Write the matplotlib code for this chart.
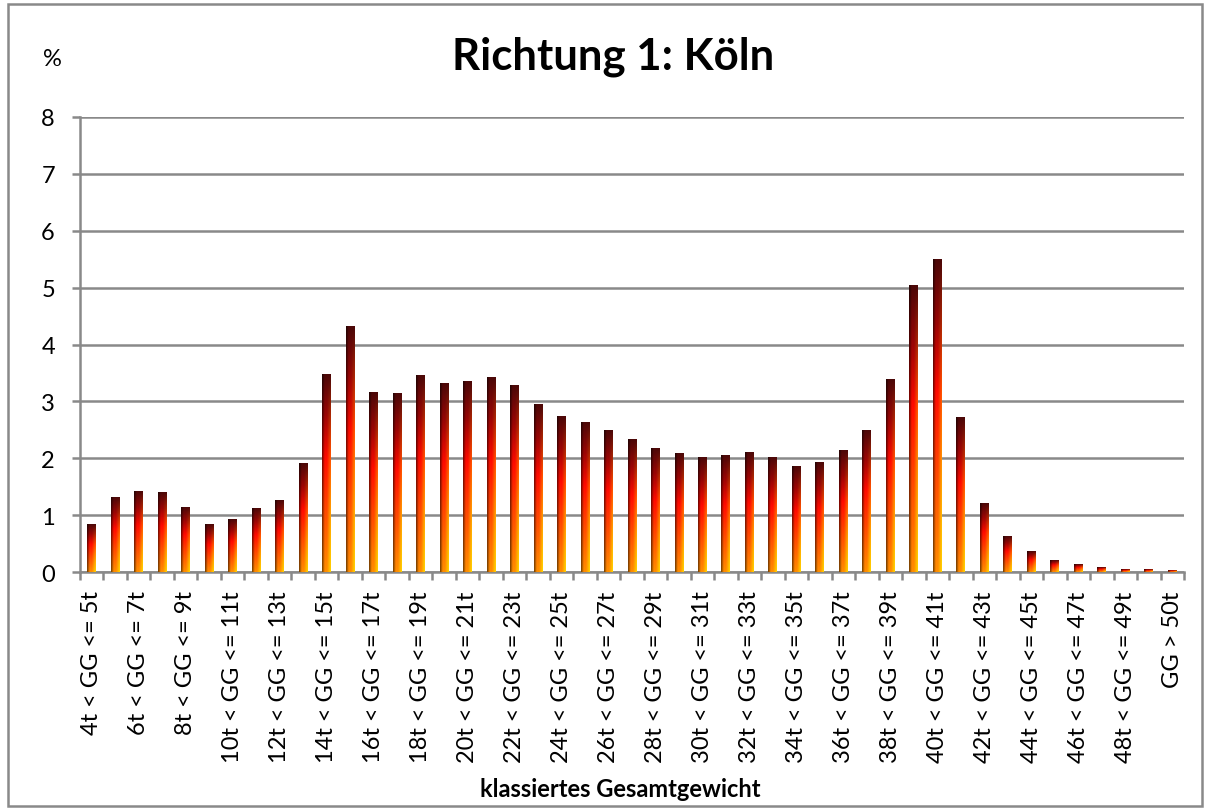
import matplotlib
matplotlib.use("Agg")
import matplotlib.pyplot as plt
import numpy as np
from matplotlib.colors import LinearSegmentedColormap, to_rgb
from matplotlib.patches import Rectangle

# Klassen des Gesamtgewichts (GG) und Anteile in %
unten = list(range(4, 50))
klassen = [f"{a}t < GG <= {a + 1}t" for a in unten] + ["GG > 50t"]
anteil = [0.83, 1.30, 1.41, 1.39, 1.13, 0.83, 0.92, 1.11, 1.25, 1.90,
          3.46, 4.31, 3.15, 3.13, 3.45, 3.31, 3.34, 3.41, 3.27, 2.94,
          2.73, 2.62, 2.48, 2.33, 2.17, 2.08, 2.01, 2.05, 2.10, 2.01,
          1.85, 1.92, 2.13, 2.48, 3.38, 5.03, 5.48, 2.71, 1.20, 0.62,
          0.36, 0.20, 0.13, 0.075, 0.04, 0.04, 0.02]
yticks = list(range(0, 9))

plt.rcParams.update({"font.family": ["Lato", "DejaVu Sans"], "font.size": 17})
GRAU = "#898989"

fig = plt.figure(figsize=(12.1, 8.12), dpi=100)
ax = fig.add_axes([80 / 1210, 1 - 573.3 / 812, 1104 / 1210, 455.6 / 812])

# Farbverlauf wie Excel "Feuer": senkrecht dunkelrot -> rot -> orange,
# links dunkler Rand, rechts unten gelblich
senkrecht = LinearSegmentedColormap.from_list("feuer", [
    (0.00, "#4d0808"), (0.20, "#9a0505"), (0.42, "#ff0a00"),
    (0.70, "#ff4a00"), (1.00, "#ff8c00")])
t = np.linspace(0, 1, 80)[:, None]
u = np.linspace(0, 1, 20)[None, :]
bild = senkrecht(np.broadcast_to(t, (80, 20)))[..., :3]
dunkel = np.clip(0.45 + u / 0.3 * 0.55, 0.45, 1.0)[..., None]
bild = bild * dunkel
gelb = (t * np.clip((u - 0.55) / 0.45, 0, 1) * 0.85)[..., None]
bild = bild * (1 - gelb) + np.array(to_rgb("#ffe000")) * gelb

breite = 0.38
x = np.arange(len(anteil))
for xi, h in zip(x, anteil):
    ax.imshow(bild, aspect="auto",
              extent=(xi - breite / 2, xi + breite / 2, 0, h),
              interpolation="bilinear", zorder=3)

ax.set_xlim(-0.5, len(anteil) - 0.5)
ax.set_ylim(0, 8)
ax.set_yticks(yticks)
ax.yaxis.grid(True, color=GRAU, lw=1.8)
ax.set_axisbelow(True)

for s in ["top", "right"]:
    ax.spines[s].set_visible(False)
for s in ["left", "bottom"]:
    ax.spines[s].set_color(GRAU)
    ax.spines[s].set_linewidth(1.8)

ax.tick_params(axis="y", length=6, width=1.8, color=GRAU, pad=12, labelsize=17)
ax.set_xticks(np.arange(len(anteil) + 1) - 0.5)
ax.set_xticklabels([])
ax.tick_params(axis="x", which="major", length=6, width=1.8, color=GRAU)
ax.set_xticks(x[::2], [klassen[i] for i in x[::2]], minor=True)
ax.tick_params(axis="x", which="minor", length=0, pad=13, labelsize=17,
               labelrotation=90)

fig.text(613 / 1210, 1 - 57 / 812, "Richtung 1: Köln", ha="center", va="center",
         fontsize=31.5, fontweight="bold")
fig.text(52 / 1210, 1 - 60 / 812, "%", ha="center", va="center", fontsize=17)
fig.text(620 / 1210, 1 - 790 / 812, "klassiertes Gesamtgewicht", ha="center",
         va="center", fontsize=17, fontweight="bold")

fig.patches.append(Rectangle((8 / 1210, 5 / 812), 1194 / 1210, 802 / 812,
                             transform=fig.transFigure, fill=False,
                             edgecolor=GRAU, lw=1.8))

fig.savefig("out.png", dpi=100)
